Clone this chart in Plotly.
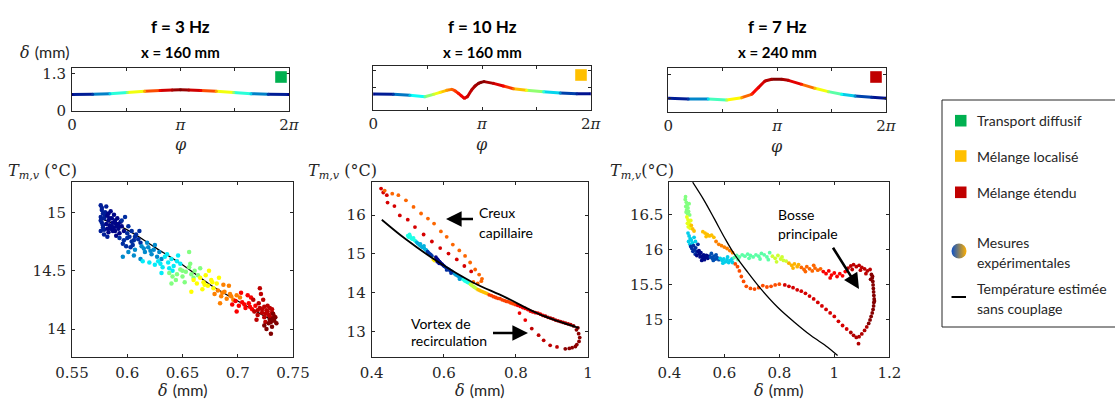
import math
import plotly.graph_objects as go
from plotly.colors import sample_colorscale

W, H = 1115, 406

# ---------------- data ----------------
freq_titles = ["f = 3 Hz", "f = 10 Hz", "f = 7 Hz"]
pos_titles = ["x = 160 mm", "x = 160 mm", "x = 240 mm"]
regime_names = ["Transport diffusif", "Mélange localisé", "Mélange étendu"]
regime_colors = ["#00B050", "#FFC000", "#C00000"]

# film thickness profiles delta(phi), mm
top1_phi = [0, 0.6, 1.1, 1.6, 2.1, 2.55, 2.9, 3.14, 3.38, 3.73, 4.18, 4.68, 5.18, 5.68, 6.283]
top1_delta = [0.575, 0.58, 0.60, 0.64, 0.68, 0.71, 0.728, 0.735, 0.728, 0.71, 0.68, 0.64, 0.60, 0.58, 0.575]

top2_phi = [0, 0.58, 1.06, 1.49, 1.74, 1.93, 2.12, 2.27, 2.36, 2.46, 2.54, 2.63, 2.72, 2.84,
            2.94, 3.04, 3.11, 3.20, 3.47, 3.76, 4.05, 4.43, 4.92, 5.40, 5.88, 6.283]
top2_delta = [0.552, 0.54, 0.506, 0.46, 0.54, 0.61, 0.679, 0.713, 0.667, 0.575, 0.495, 0.403, 0.46, 0.69,
              0.83, 0.92, 0.955, 0.98, 0.92, 0.83, 0.736, 0.68, 0.633, 0.587, 0.564, 0.564]

top3_phi = [0, 0.577, 1.155, 1.684, 2.117, 2.405, 2.598, 2.79, 2.983, 3.271, 3.464, 3.849,
            4.234, 4.618, 5.003, 5.388, 5.869, 6.283]
top3_delta = [0.483, 0.46, 0.46, 0.426, 0.506, 0.621, 0.851, 1.081, 1.139, 1.139, 1.104, 0.966,
              0.828, 0.713, 0.621, 0.564, 0.518, 0.483]

# estimated temperature without coupling (black lines)
est1_delta = [0.575, 0.60, 0.625, 0.65, 0.675, 0.70, 0.73]
est1_temp = [14.95, 14.85, 14.70, 14.55, 14.38, 14.24, 14.08]
est2_delta = [0.428, 0.493, 0.585, 0.678, 0.770, 0.863, 0.974]
est2_temp = [15.88, 15.39, 14.79, 14.28, 13.89, 13.46, 13.10]
est3_delta = [0.485, 0.527, 0.564, 0.600, 0.636, 0.685, 0.733, 0.794, 0.855, 0.915, 0.976, 1.012]
est3_temp = [16.967, 16.705, 16.443, 16.181, 15.943, 15.681, 15.443, 15.181, 14.967, 14.776, 14.610, 14.490]

# measurements: colour value (phase position, jet scale) and (delta, T) points per group
p1_colors = [0.10, 0.02, 0.15, 0.28, 0.38, 0.50, 0.60, 0.70, 0.80, 0.90, 1.0]
p1_points = [
    [(0.576, 15.06), (0.577, 15.02), (0.578, 14.99), (0.576, 14.96), (0.577, 14.91), (0.578, 14.87),
     (0.576, 14.84), (0.579, 14.81), (0.581, 15.05), (0.580, 15.00), (0.582, 14.79), (0.579, 14.95),
     (0.577, 15.04), (0.576, 14.93), (0.578, 14.89), (0.580, 14.97), (0.579, 14.85)],
    [(0.582, 14.97), (0.583, 14.93), (0.584, 14.89), (0.585, 14.86), (0.583, 14.83), (0.586, 14.95),
     (0.587, 14.91), (0.588, 14.87), (0.589, 14.84), (0.590, 14.90), (0.591, 14.95), (0.592, 14.86),
     (0.593, 14.82), (0.594, 14.92), (0.595, 14.88), (0.585, 15.01), (0.588, 14.98), (0.590, 14.80),
     (0.597, 14.84), (0.581, 14.90), (0.584, 14.95), (0.586, 14.88), (0.589, 14.93), (0.592, 14.90),
     (0.582, 14.86), (0.587, 14.84), (0.591, 14.88), (0.583, 14.99)],
    [(0.593, 14.78), (0.597, 14.76), (0.600, 14.82), (0.602, 14.79), (0.604, 14.84), (0.606, 14.76),
     (0.608, 14.81), (0.610, 14.77), (0.612, 14.74), (0.599, 14.71), (0.603, 14.70), (0.601, 14.88),
     (0.596, 14.73), (0.611, 14.84), (0.605, 14.72), (0.598, 14.96), (0.595, 14.93), (0.600, 14.78),
     (0.607, 14.79), (0.604, 14.75)],
    [(0.596, 14.62), (0.601, 14.66), (0.607, 14.68), (0.613, 14.71), (0.616, 14.66), (0.619, 14.70),
     (0.622, 14.64), (0.624, 14.68), (0.627, 14.62), (0.629, 14.66), (0.612, 14.60), (0.618, 14.74),
     (0.606, 14.63), (0.631, 14.60), (0.625, 14.72), (0.615, 14.69), (0.621, 14.67)],
    [(0.620, 14.57), (0.625, 14.55), (0.628, 14.58), (0.632, 14.53), (0.634, 14.62), (0.637, 14.57),
     (0.640, 14.60), (0.642, 14.54), (0.645, 14.58), (0.648, 14.56), (0.631, 14.48), (0.636, 14.64),
     (0.641, 14.50), (0.646, 14.63), (0.614, 14.58), (0.630, 14.56), (0.638, 14.52)],
    [(0.638, 14.48), (0.641, 14.45), (0.645, 14.47), (0.648, 14.51), (0.650, 14.45), (0.653, 14.49),
     (0.656, 14.53), (0.658, 14.47), (0.661, 14.50), (0.664, 14.46), (0.644, 14.42), (0.652, 14.40),
     (0.657, 14.56), (0.666, 14.52), (0.640, 14.39), (0.656, 14.66), (0.650, 14.50), (0.660, 14.44)],
    [(0.660, 14.42), (0.663, 14.39), (0.666, 14.44), (0.669, 14.40), (0.671, 14.46), (0.673, 14.37),
     (0.676, 14.42), (0.678, 14.35), (0.681, 14.39), (0.668, 14.34), (0.658, 14.32), (0.674, 14.50),
     (0.683, 14.44), (0.670, 14.38), (0.677, 14.40)],
    [(0.679, 14.30), (0.682, 14.33), (0.685, 14.28), (0.688, 14.32), (0.690, 14.26), (0.693, 14.30),
     (0.696, 14.25), (0.699, 14.29), (0.684, 14.22), (0.692, 14.37), (0.702, 14.27), (0.687, 14.38),
     (0.686, 14.31), (0.694, 14.28)],
    [(0.695, 14.21), (0.698, 14.24), (0.701, 14.20), (0.704, 14.23), (0.707, 14.18), (0.710, 14.22),
     (0.713, 14.17), (0.716, 14.20), (0.703, 14.31), (0.709, 14.29), (0.699, 14.15), (0.712, 14.27),
     (0.706, 14.21), (0.711, 14.19)],
    [(0.715, 14.15), (0.718, 14.12), (0.720, 14.18), (0.722, 14.14), (0.724, 14.10), (0.726, 14.16),
     (0.728, 14.12), (0.730, 14.09), (0.719, 14.22), (0.723, 14.25), (0.727, 14.20), (0.731, 14.14),
     (0.717, 14.08), (0.725, 14.06), (0.721, 14.30), (0.729, 14.18), (0.733, 14.11), (0.714, 14.25),
     (0.720, 14.35), (0.722, 14.17), (0.725, 14.13), (0.727, 14.15), (0.729, 14.11), (0.724, 14.19),
     (0.718, 14.16), (0.731, 14.17)],
    [(0.728, 14.05), (0.731, 14.02), (0.733, 14.07), (0.734, 14.10), (0.730, 13.96), (0.726, 14.00),
     (0.732, 14.13), (0.729, 14.08), (0.724, 14.03), (0.735, 14.05), (0.730, 14.06), (0.732, 14.09)],
]

p2_colors = [0.86, 0.72, 0.42, 0.32, 0.18, 0.62, 0.03, 0.15, 0.30, 0.42, 0.55, 0.65, 0.75, 0.82, 0.90, 0.98]
p2_points = [
    [(0.426, 16.68), (0.432, 16.58), (0.442, 16.51), (0.444, 16.32), (0.463, 16.23), (0.478, 15.99),
     (0.500, 15.88), (0.520, 15.69), (0.544, 15.50), (0.567, 15.32), (0.590, 15.15), (0.613, 15.01),
     (0.636, 14.86), (0.657, 14.69), (0.676, 14.55)],
    [(0.436, 16.63), (0.457, 16.55), (0.474, 16.51), (0.495, 16.38), (0.516, 16.21), (0.537, 16.04),
     (0.556, 15.91), (0.573, 15.78), (0.592, 15.58), (0.608, 15.44), (0.625, 15.24), (0.643, 15.09),
     (0.659, 14.95), (0.673, 14.78), (0.687, 14.60), (0.698, 14.47), (0.706, 14.36), (0.704, 14.30),
     (0.694, 14.24), (0.682, 14.28)],
    [(0.500, 15.47), (0.503, 15.43), (0.507, 15.45), (0.510, 15.40), (0.513, 15.38), (0.516, 15.41),
     (0.519, 15.35), (0.505, 15.50), (0.522, 15.33)],
    [(0.525, 15.30), (0.528, 15.27), (0.531, 15.25), (0.534, 15.22), (0.537, 15.20), (0.540, 15.17),
     (0.543, 15.19), (0.546, 15.14), (0.549, 15.11), (0.552, 15.10), (0.535, 15.26), (0.545, 15.21)],
    [(0.555, 15.06), (0.558, 15.03), (0.561, 15.00), (0.564, 14.98), (0.567, 14.95)],
    [(0.571, 14.86), (0.574, 14.83)],
    [(0.578, 14.92), (0.580, 14.88), (0.583, 14.86), (0.585, 14.83), (0.588, 14.80), (0.590, 14.78),
     (0.593, 14.75), (0.596, 14.73), (0.599, 14.70), (0.582, 14.80), (0.587, 14.76)],
    [(0.602, 14.68), (0.606, 14.65), (0.610, 14.62), (0.614, 14.60), (0.618, 14.57), (0.622, 14.55),
     (0.626, 14.52), (0.608, 14.59), (0.620, 14.51)],
    [(0.630, 14.49), (0.634, 14.46), (0.638, 14.44), (0.642, 14.41), (0.646, 14.39), (0.650, 14.37),
     (0.644, 14.35)],
    [(0.654, 14.34), (0.658, 14.31), (0.662, 14.29), (0.666, 14.27), (0.670, 14.25)],
    [(0.674, 14.22), (0.678, 14.19), (0.682, 14.16), (0.686, 14.14), (0.690, 14.11)],
    [(0.695, 14.08), (0.700, 14.06), (0.705, 14.04), (0.710, 14.02), (0.715, 14.00), (0.720, 13.98)],
    [(0.726, 13.95), (0.732, 13.93), (0.738, 13.90), (0.744, 13.88), (0.750, 13.86), (0.756, 13.85),
     (0.762, 13.82), (0.768, 13.80), (0.774, 13.78), (0.780, 13.77), (0.786, 13.74), (0.792, 13.72),
     (0.798, 13.70)],
    [(0.805, 13.68), (0.812, 13.65), (0.819, 13.62), (0.826, 13.60), (0.833, 13.57), (0.840, 13.53),
     (0.847, 13.51), (0.854, 13.49), (0.861, 13.48), (0.868, 13.45), (0.875, 13.42), (0.810, 13.48),
     (0.826, 13.30)],
    [(0.882, 13.40), (0.889, 13.37), (0.896, 13.35), (0.903, 13.33), (0.910, 13.30), (0.917, 13.28),
     (0.924, 13.26), (0.931, 13.24), (0.938, 13.22), (0.945, 13.20), (0.952, 13.18), (0.844, 13.08),
     (0.863, 12.91), (0.877, 12.78), (0.895, 12.65), (0.914, 12.61)],
    [(0.960, 13.15), (0.968, 13.05), (0.974, 12.95), (0.977, 12.85), (0.975, 12.75), (0.969, 12.67),
     (0.956, 12.59), (0.937, 12.56), (0.948, 12.57), (0.965, 12.62), (0.972, 13.10)],
]

p3_colors = [0.50, 0.58, 0.65, 0.35, 0.15, 0.03, 0.22, 0.35, 0.47, 0.56, 0.66, 0.72, 0.80, 0.90,
             0.99, 0.92, 0.86, 0.74, 0.70]
p3_points = [
    [(0.458, 16.72), (0.462, 16.68), (0.465, 16.64), (0.460, 16.62), (0.468, 16.60), (0.463, 16.57),
     (0.470, 16.55), (0.466, 16.52), (0.472, 16.66), (0.459, 16.76), (0.474, 16.50), (0.461, 16.54)],
    [(0.464, 16.47), (0.468, 16.43), (0.471, 16.40), (0.466, 16.38), (0.474, 16.36), (0.478, 16.42),
     (0.469, 16.33), (0.476, 16.31)],
    [(0.522, 16.26), (0.530, 16.24), (0.538, 16.22), (0.546, 16.20), (0.554, 16.21), (0.562, 16.18),
     (0.534, 16.19), (0.480, 16.35), (0.485, 16.30), (0.490, 16.27)],
    [(0.468, 16.24), (0.472, 16.20), (0.476, 16.16), (0.470, 16.12), (0.480, 16.14), (0.484, 16.10),
     (0.475, 16.08), (0.490, 16.18), (0.495, 16.12)],
    [(0.478, 16.05), (0.482, 16.02), (0.488, 16.06), (0.492, 16.00), (0.486, 15.98), (0.496, 16.03),
     (0.500, 15.97), (0.494, 15.94), (0.504, 16.08)],
    [(0.505, 15.98), (0.510, 15.94), (0.515, 15.96), (0.520, 15.91), (0.525, 15.93), (0.530, 15.89),
     (0.535, 15.92), (0.540, 15.88), (0.512, 15.90), (0.522, 15.87), (0.518, 15.85), (0.528, 15.86),
     (0.545, 15.91), (0.500, 15.92), (0.508, 15.99)],
    [(0.550, 15.90), (0.556, 15.88), (0.562, 15.91), (0.568, 15.87), (0.574, 15.89), (0.580, 15.86),
     (0.560, 15.85), (0.570, 15.93), (0.553, 15.95)],
    [(0.585, 15.88), (0.592, 15.85), (0.598, 15.87), (0.604, 15.83), (0.610, 15.86), (0.616, 15.82),
     (0.622, 15.85), (0.628, 15.87), (0.595, 15.81), (0.612, 15.90), (0.630, 15.82)],
    [(0.636, 15.89), (0.645, 15.92), (0.655, 15.90), (0.665, 15.93), (0.675, 15.91), (0.685, 15.94),
     (0.695, 15.92), (0.705, 15.90), (0.715, 15.93), (0.725, 15.91), (0.735, 15.95), (0.745, 15.93),
     (0.755, 15.90), (0.765, 15.96), (0.650, 15.86), (0.690, 15.88), (0.730, 15.87), (0.760, 15.86)],
    [(0.775, 15.91), (0.785, 15.88), (0.795, 15.92), (0.805, 15.87), (0.815, 15.85), (0.825, 15.84),
     (0.790, 15.83), (0.810, 15.90)],
    [(0.835, 15.81), (0.845, 15.78), (0.855, 15.80), (0.865, 15.76), (0.850, 15.74), (0.870, 15.79)],
    [(0.880, 15.75), (0.890, 15.72), (0.900, 15.76), (0.910, 15.73), (0.920, 15.70), (0.930, 15.74),
     (0.940, 15.71), (0.950, 15.73), (0.895, 15.69), (0.925, 15.78)],
    [(0.960, 15.69), (0.970, 15.66), (0.980, 15.70), (0.990, 15.64), (1.000, 15.67), (1.010, 15.62),
     (1.020, 15.66), (1.030, 15.63), (1.040, 15.69), (0.985, 15.60)],
    [(1.050, 15.74), (1.060, 15.77), (1.070, 15.79), (1.080, 15.76), (1.090, 15.78), (1.100, 15.75),
     (1.110, 15.73), (1.120, 15.70), (1.130, 15.72), (1.065, 15.72), (1.095, 15.71), (1.115, 15.66)],
    [(1.135, 15.65), (1.138, 15.60), (1.140, 15.55), (1.141, 15.50), (1.142, 15.45), (1.143, 15.40),
     (1.144, 15.35), (1.145, 15.30), (1.144, 15.25), (1.143, 15.20), (1.141, 15.15), (1.138, 15.10),
     (1.134, 15.05), (1.130, 15.00), (1.125, 14.95), (1.132, 15.58), (1.146, 15.27), (1.139, 15.62)],
    [(1.118, 14.90), (1.110, 14.85), (1.100, 14.80), (1.090, 14.76), (1.080, 14.75), (1.088, 14.66),
     (1.070, 14.78), (1.060, 14.82)],
    [(1.045, 14.87), (1.030, 14.92), (1.015, 14.98), (1.000, 15.05), (0.985, 15.10), (0.970, 15.15),
     (0.955, 15.20), (0.940, 15.25), (0.925, 15.30), (0.910, 15.34), (0.895, 15.38), (0.880, 15.41),
     (0.865, 15.43), (0.850, 15.46), (0.835, 15.48), (0.820, 15.50)],
    [(0.800, 15.51), (0.785, 15.50), (0.770, 15.48), (0.755, 15.47), (0.740, 15.49), (0.725, 15.46),
     (0.710, 15.44), (0.695, 15.45), (0.680, 15.48), (0.670, 15.55), (0.662, 15.62), (0.655, 15.70),
     (0.648, 15.76), (0.640, 15.80)],
    [(0.570, 16.12), (0.580, 16.08), (0.590, 16.06), (0.600, 16.04), (0.610, 16.02), (0.620, 15.99),
     (0.630, 15.96)],
]

# axis settings (ranges / ticks)
top_yranges = [[0, 1.5], [0, 1.53], [0, 1.54]]
top_yticks = [[0, 1.3], [0.78, 1.35], [0.48, 1.29]]
top_yticktext = [["0", "1.3"], [" ", " "], [" ", " "]]
bot_xranges = [[0.55, 0.75], [0.4, 1.0], [0.4, 1.2]]
bot_yranges = [[13.76, 15.26], [12.35, 16.85], [14.47, 16.97]]
bot_xticks = [[0.55, 0.6, 0.65, 0.7, 0.75], [0.4, 0.6, 0.8, 1.0], [0.4, 0.6, 0.8, 1.0, 1.2]]
bot_xticktext = [["0.55", "0.6", "0.65", "0.7", "0.75"], ["0.4", "0.6", "0.8", "1"],
                 ["0.4", "0.6", "0.8", "1", "1.2"]]
bot_yticks = [[14, 14.5, 15], [13, 14, 15, 16], [15, 15.5, 16, 16.5]]
bot_yticktext = [["14", "14.5", "15"], ["13", "14", "15", "16"], ["15", "15.5", "16", "16.5"]]

# ---------------- layout geometry (pixels) ----------------
boxes_top = [(72, 289, 67.7, 111), (373.3, 590.7, 65.7, 110), (668.3, 886, 67.7, 112.3)]
boxes_bot = [(72, 293, 182, 357), (371.7, 588, 182, 357), (669.3, 889.3, 182, 357)]


def fx(p):
    return p / W


def fy(p):
    return 1 - p / H


def jet(c):
    return sample_colorscale("Jet", [min(max(c, 0), 1)])[0]


fig = go.Figure()
top_phi = [top1_phi, top2_phi, top3_phi]
top_delta = [top1_delta, top2_delta, top3_delta]
est_d = [est1_delta, est2_delta, est3_delta]
est_t = [est1_temp, est2_temp, est3_temp]
p_colors = [p1_colors, p2_colors, p3_colors]
p_points = [p1_points, p2_points, p3_points]

for k in range(3):
    xa = "x" if k == 0 else f"x{k + 1}"
    ya = "y" if k == 0 else f"y{k + 1}"
    phi, dl = top_phi[k], top_delta[k]
    for i in range(len(phi) - 1):
        mid = 0.5 * (phi[i] + phi[i + 1])
        c = 1 - abs(mid - math.pi) / math.pi
        fig.add_trace(go.Scatter(x=[phi[i], phi[i + 1]], y=[dl[i], dl[i + 1]], mode="lines",
                                 line=dict(color=jet(c), width=3), xaxis=xa, yaxis=ya,
                                 showlegend=False, hoverinfo="skip"))
    cs = [1 - abs(p - math.pi) / math.pi for p in phi]
    fig.add_trace(go.Scatter(x=phi, y=dl, mode="markers",
                             marker=dict(size=3, color=cs, colorscale="Jet", cmin=0, cmax=1,
                                         line=dict(width=0)),
                             xaxis=xa, yaxis=ya, showlegend=False, hoverinfo="skip"))

msize = [4.5, 3.8, 3.8]
for k in range(3):
    xa, ya = f"x{k + 4}", f"y{k + 4}"
    line_tr = go.Scatter(x=est_d[k], y=est_t[k], mode="lines", line_shape="spline",
                         line=dict(color="black", width=1.8 if k == 1 else 1.3),
                         xaxis=xa, yaxis=ya, showlegend=False, hoverinfo="skip")
    if k == 0:
        fig.add_trace(line_tr)
    xs, ys, cs = [], [], []
    for c, pts in zip(p_colors[k], p_points[k]):
        for d, t in pts:
            xs.append(d)
            ys.append(t)
            cs.append(c)
    fig.add_trace(go.Scatter(x=xs, y=ys, mode="markers",
                             marker=dict(size=msize[k], color=cs, colorscale="Jet", cmin=0, cmax=1,
                                         line=dict(width=0)),
                             xaxis=xa, yaxis=ya, showlegend=False, hoverinfo="skip"))
    if k > 0:
        fig.add_trace(line_tr)

# legend gradient circle on a pixel overlay axis
fig.add_trace(go.Scatter(x=[959], y=[251], mode="markers",
                         marker=dict(size=15, color="rgb(10,80,200)",
                                     gradient=dict(type="horizontal", color="rgb(255,175,0)")),
                         xaxis="x7", yaxis="y7", showlegend=False, hoverinfo="skip"))

common = dict(showline=True, linecolor="#262626", linewidth=1, mirror="ticks", ticks="inside",
              ticklen=3, tickcolor="#262626", tickwidth=1, showgrid=False, zeroline=False,
              automargin=False, ticklabelstandoff=2,
              tickfont=dict(family="DejaVu Serif", size=15, color="#262626"))

layout = dict(width=W, height=H, margin=dict(l=0, r=0, t=0, b=0, autoexpand=False),
              paper_bgcolor="white", plot_bgcolor="rgba(0,0,0,0)", showlegend=False)

for k in range(3):
    x0, x1, y0, y1 = boxes_top[k]
    xn = "xaxis" if k == 0 else f"xaxis{k + 1}"
    yn = "yaxis" if k == 0 else f"yaxis{k + 1}"
    layout[xn] = dict(common, domain=[fx(x0), fx(x1)], range=[0, 2 * math.pi],
                      tickvals=[0, math.pi / 2, math.pi, 3 * math.pi / 2, 2 * math.pi],
                      ticktext=["0", " ", "<i>π</i>", " ", "2<i>π</i>"],
                      ticklabelstandoff=0,
                      anchor="y" if k == 0 else f"y{k + 1}")
    layout[yn] = dict(common, domain=[fy(y1), fy(y0)], range=top_yranges[k],
                      tickvals=top_yticks[k], ticktext=top_yticktext[k],
                      anchor="x" if k == 0 else f"x{k + 1}")
    bx0, bx1, by0, by1 = boxes_bot[k]
    layout[f"xaxis{k + 4}"] = dict(common, domain=[fx(bx0), fx(bx1)], range=bot_xranges[k],
                                   tickvals=bot_xticks[k], ticktext=bot_xticktext[k],
                                   anchor=f"y{k + 4}")
    layout[f"yaxis{k + 4}"] = dict(common, domain=[fy(by1), fy(by0)], range=bot_yranges[k],
                                   tickvals=bot_yticks[k], ticktext=bot_yticktext[k],
                                   anchor=f"x{k + 4}")
layout["xaxis7"] = dict(domain=[0, 1], range=[0, W], visible=False, anchor="y7", automargin=False)
layout["yaxis7"] = dict(domain=[0, 1], range=[H, 0], visible=False, anchor="x7", automargin=False)

anns = []
shapes = []


def ann(text, px, py, size=14, family="Lato", xanchor="center", color="black"):
    anns.append(dict(text=text, x=fx(px), y=fy(py), xref="paper", yref="paper", showarrow=False,
                     font=dict(family=family, size=size, color=color), xanchor=xanchor,
                     yanchor="middle"))


def arrow(hx, hy, tx, ty):
    anns.append(dict(text=" ", x=fx(hx), y=fy(hy), xref="paper", yref="paper", showarrow=True,
                     ax=tx - hx, ay=ty - hy, axref="pixel", ayref="pixel", arrowhead=2,
                     arrowsize=1.2, arrowwidth=2.6, arrowcolor="black"))


delta_mm = '<i>δ</i> <span style="font-family:Lato">(mm)</span>'
centers = [180.5, 482, 777]
phi_y = [144, 144, 146]
for k in range(3):
    cx = centers[k]
    ann("<b>" + freq_titles[k] + "</b>", cx, 27, size=17)
    ann("<b>" + pos_titles[k] + "</b>", cx, 52, size=15)
    ann("<i>φ</i>", cx, phi_y[k], size=16, family="DejaVu Serif", color="#262626")
    bx0, bx1, by0, by1 = boxes_bot[k]
    ann(delta_mm, (bx0 + bx1) / 2, 390, size=16, family="DejaVu Serif", color="#262626")
    sep = "" if k == 2 else " "
    ann("<i>T</i><sub><i>m,v</i></sub>" + sep + "(°C)", bx0 + 7, 171, size=16,
        family="DejaVu Serif", xanchor="right", color="#262626")
    sq = [(281, 77), (581, 75), (876, 77)][k]
    shapes.append(dict(type="rect", xref="paper", yref="paper",
                       x0=fx(sq[0] - 5.8), x1=fx(sq[0] + 5.8), y0=fy(sq[1] + 5.8), y1=fy(sq[1] - 5.8),
                       fillcolor=regime_colors[k], line=dict(width=0)))

ann(delta_mm, 72, 52, size=16, family="DejaVu Serif", xanchor="right", color="#262626")

# in-plot annotations
ann("Creux", 477, 212, xanchor="left")
ann("capillaire", 477, 232, xanchor="left")
arrow(446, 219, 476, 219)
ann("Vortex de", 409, 323, xanchor="left")
ann("recirculation", 409, 340, xanchor="left")
arrow(528, 333, 490, 333)
ann("Bosse", 776, 215, xanchor="left")
ann("principale", 776, 233, xanchor="left")
arrow(859, 289, 830, 243)

# legend box
shapes.append(dict(type="rect", xref="paper", yref="paper", x0=fx(942), x1=fx(1125),
                   y0=fy(327), y1=fy(100), line=dict(color="#262626", width=1)))
for k, yy in enumerate([120.7, 156, 192.3]):
    shapes.append(dict(type="rect", xref="paper", yref="paper", x0=fx(955), x1=fx(966.5),
                       y0=fy(yy + 5.8), y1=fy(yy - 5.8), fillcolor=regime_colors[k], line=dict(width=0)))
    ann(regime_names[k], 975, yy, xanchor="left", color="#262626")
ann("Mesures", 975, 242, xanchor="left", color="#262626")
ann("expérimentales", 975, 262, xanchor="left", color="#262626")
shapes.append(dict(type="line", xref="paper", yref="paper", x0=fx(951.5), x1=fx(966),
                   y0=fy(297), y1=fy(297), line=dict(color="black", width=2)))
ann("Température estimée", 975, 288, xanchor="left", color="#262626")
ann("sans couplage", 975, 308, xanchor="left", color="#262626")

layout["annotations"] = anns
layout["shapes"] = shapes
fig.update_layout(**layout)
fig.write_html("out.html", config={"displayModeBar": False},
               post_script="document.body.style.margin='0px';")
